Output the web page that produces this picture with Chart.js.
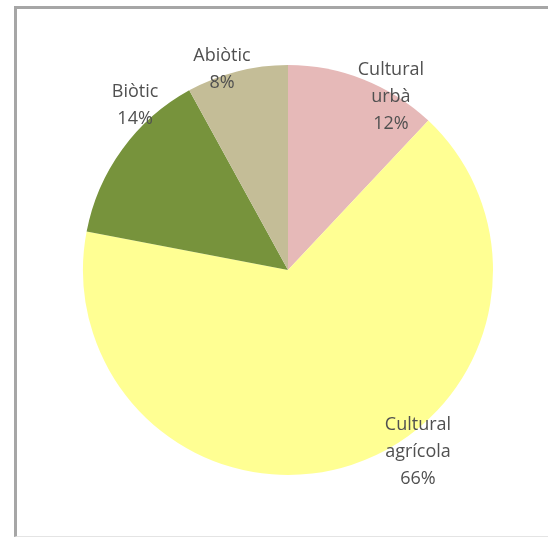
<!DOCTYPE html>
<html>
<head>
<meta charset="utf-8">
<script src="https://cdn.jsdelivr.net/npm/chart.js@4/dist/chart.umd.min.js"></script>
<style>
  html, body { margin: 0; padding: 0; background: #fff; }
  #wrap { position: relative; width: 548px; height: 539px; overflow: hidden; }
  #frame {
    position: absolute; left: 14px; top: 6px; width: 560px; height: 531px;
    border-left: 3px solid #a6a6a6; border-top: 3px solid #a6a6a6;
    border-bottom: 1px solid #e4e4e4; box-sizing: border-box;
  }
  canvas { position: absolute; left: 0; top: 0; }
</style>
</head>
<body>
<div id="wrap">
  <div id="frame"></div>
  <canvas id="pie" width="548" height="539"></canvas>
</div>
<script>
const categories = [["Cultural", "urbà"], ["Cultural", "agrícola"], ["Biòtic"], ["Abiòtic"]]
const shares = [12, 66, 14, 8]
const colors = ["#e6b9b8", "#ffff93", "#77933c", "#c4bd97"]

// label anchor, as a fraction of the pie radius from its centre
const labelSpots = [[0.502, -0.844], [0.634, 0.888], [-0.746, -0.805], [-0.322, -0.98]]

const pieLabels = {
  id: "pieLabels",
  afterDatasetsDraw(chart) {
    const ctx = chart.ctx
    const arcs = chart.getDatasetMeta(0).data
    ctx.save()
    ctx.font = "18px 'Open Sans', sans-serif"
    ctx.fillStyle = "#505050"
    ctx.textAlign = "center"
    ctx.textBaseline = "middle"
    arcs.forEach((arc, i) => {
      const lines = categories[i].concat([shares[i] + "%"])
      const x = arc.x + labelSpots[i][0] * arc.outerRadius
      const y = arc.y + labelSpots[i][1] * arc.outerRadius
      const lh = 27
      lines.forEach((t, k) => {
        ctx.fillText(t, x, y + (k - (lines.length - 1) / 2) * lh)
      })
    })
    ctx.restore()
  }
}

new Chart(document.getElementById("pie"), {
  type: "pie",
  data: {
    labels: categories.map(c => c.join(" ")),
    datasets: [{
      data: shares,
      backgroundColor: colors,
      borderWidth: 0
    }]
  },
  options: {
    responsive: false,
    animation: false,
    layout: { padding: { left: 83, right: 55, top: 65, bottom: 64 } },
    plugins: {
      legend: { display: false },
      tooltip: { enabled: false }
    }
  },
  plugins: [pieLabels]
})
</script>
</body>
</html>
